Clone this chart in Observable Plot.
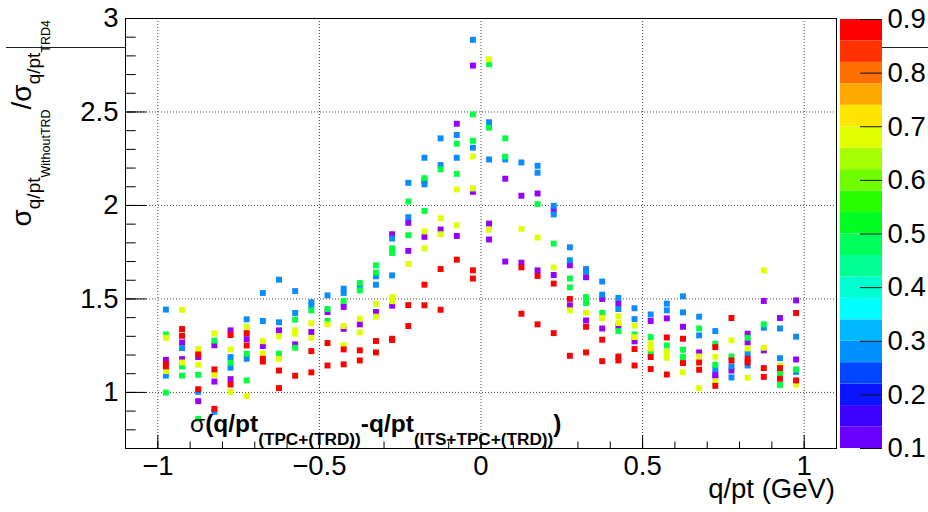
<!DOCTYPE html>
<html><head><meta charset="utf-8">
<script src="https://cdn.jsdelivr.net/npm/d3@7"></script>
<script src="https://cdn.jsdelivr.net/npm/@observablehq/plot@0.6"></script>
<style>
html,body{margin:0;padding:0;background:#fff;}
#wrap{position:relative;width:928px;height:512px;overflow:hidden;font-family:"Liberation Sans",Arial,Helvetica,sans-serif;}
#wrap > *{position:absolute;}
</style></head><body><div id="wrap"></div>
<script>
// ---- data ----
const xBins = [-0.975,-0.925,-0.875,-0.825,-0.775,-0.725,-0.675,-0.625,-0.575,-0.525,
  -0.475,-0.425,-0.375,-0.325,-0.275,-0.225,-0.175,-0.125,-0.075,-0.025,
  0.025,0.075,0.125,0.175,0.225,0.275,0.325,0.375,0.425,0.475,
  0.525,0.575,0.625,0.675,0.725,0.775,0.825,0.875,0.925,0.975];

const violetHi = [1.174,1.267,1.189,1.252,1.332,1.285,1.248,1.332,1.257,1.323,1.430,1.457,1.364,1.430,1.846,1.907,2.130,1.871,2.437,2.748,1.903,2.143,2.052,2.064,1.973,1.680,1.616,1.500,1.475,1.273,1.382,1.396,1.351,1.214,1.096,1.117,1.314,1.489,1.398,1.492];
const violetLo = [null,1.178,0.953,1.058,1.071,null,null,null,null,null,null,1.340,null,null,1.464,1.757,1.832,null,1.837,2.073,1.818,1.700,1.694,1.653,1.628,1.466,1.385,1.342,1.355,null,null,null,null,null,1.085,null,1.267,1.225,null,1.176];
const blueHi = [1.443,1.237,1.003,0.896,1.189,1.391,1.532,1.603,1.542,1.482,1.519,1.555,1.568,1.621,1.823,2.121,2.255,2.359,2.377,2.886,2.445,2.246,2.230,2.212,1.998,1.776,1.660,1.593,1.505,1.450,1.417,1.475,1.514,1.405,1.328,1.139,1.207,1.346,1.342,1.298];
const blueLo = [1.090,null,null,null,1.132,1.180,1.382,1.375,1.425,1.465,null,1.532,null,1.576,1.626,1.937,2.113,2.216,2.255,2.309,2.246,null,null,2.175,1.952,1.707,1.645,1.523,1.446,1.392,null,1.439,1.428,1.305,1.124,1.080,1.144,null,1.183,1.110];
const greenHi = [1.310,1.139,1.094,1.277,1.158,1.207,null,1.207,1.389,1.439,1.446,1.489,1.585,1.680,1.771,2.021,2.146,2.193,2.330,2.487,2.755,2.359,null,2.007,1.796,1.609,1.510,1.425,1.328,1.310,1.296,1.251,1.228,1.342,1.260,1.192,1.292,1.364,1.103,1.123];
const greenLo = [0.999,1.090,0.859,null,null,1.064,null,null,1.239,null,1.382,null,1.546,1.641,1.746,1.841,1.971,null,2.169,2.346,2.416,2.261,null,null,null,1.562,1.478,null,null,null,1.215,null,1.189,null,1.148,null,null,null,1.040,null];
const yellowHi = [1.292,1.442,1.232,1.316,1.230,1.351,1.274,1.300,1.332,1.370,1.364,1.355,1.394,1.473,1.510,1.687,1.861,1.932,2.086,2.262,2.782,null,1.875,1.828,1.668,1.439,1.426,1.398,1.407,1.357,1.260,1.216,1.107,1.192,1.191,1.278,1.235,1.653,1.144,1.042];
const yellowLo = [1.114,1.160,1.148,1.094,1.003,0.980,1.207,1.180,1.314,1.292,null,1.253,1.321,1.405,1.488,null,1.771,1.846,1.894,2.091,1.871,null,null,null,null,null,null,null,1.371,1.296,1.235,1.185,null,1.023,1.060,null,1.078,1.239,null,null];
const redHi = [1.153,1.339,1.203,1.123,1.307,1.317,1.180,1.117,1.089,1.221,1.264,1.230,1.225,1.275,1.287,1.467,1.576,1.660,1.710,1.653,null,null,1.669,1.623,1.582,1.500,1.351,1.282,1.192,1.232,1.189,1.294,1.287,1.160,1.242,1.398,1.180,1.130,1.130,1.425];
const redLo = [1.139,1.303,1.017,0.912,1.042,1.251,1.165,1.023,null,1.107,1.144,1.150,1.171,1.214,1.280,1.355,1.466,1.442,null,1.609,null,null,1.421,1.364,1.317,1.196,1.214,1.167,1.171,1.144,1.125,1.096,1.157,1.121,1.035,1.171,1.160,1.083,1.073,1.064];

const seriesNames = ["z=0.1","z=0.3","z=0.5","z=0.7","z=0.9"];
const seriesColors = ["#9600ff","#0a8cff","#00ff40","#e2ff00","#ff0000"];

const xMajorTicks = [-1,-0.5,0,0.5,1];
const xTickLabels = ["\u22121","\u22120.5","0","0.5","1"];
const xMinorTicks = [-1,-0.9,-0.8,-0.7,-0.6,-0.5,-0.4,-0.3,-0.2,-0.1,0,0.1,0.2,0.3,0.4,0.5,0.6,0.7,0.8,0.9,1];
const yMajorTicks = [1,1.5,2,2.5,3];
const yTickLabels = ["1","1.5","2","2.5","3"];
const yMinorTicks = [0.7,0.8,0.9,1,1.1,1.2,1.3,1.4,1.5,1.6,1.7,1.8,1.9,2,2.1,2.2,2.3,2.4,2.5,2.6,2.7,2.8,2.9,3];
const yGridValues = [1,1.5,2,2.5];

const barEdges = [0.10,0.14,0.18,0.22,0.26,0.30,0.34,0.38,0.42,0.46,0.50,0.54,0.58,0.62,0.66,0.70,0.74,0.78,0.82,0.86,0.90];
const barColors = ["#6a00ff","#3c00ff","#0a14ff","#0046ff","#0090ff","#00b8ff","#00ffff","#00ffd0","#00ff90","#00ff5a",
                   "#00ff20","#28ff00","#70ff00","#a6ff00","#e2ff00","#ffe600","#ffa800","#ff7000","#ff3200","#ff0000"];
const cbTicks = [0.1,0.2,0.3,0.4,0.5,0.6,0.7,0.8,0.9];
const cbTickLabels = ["0.1","0.2","0.3","0.4","0.5","0.6","0.7","0.8","0.9"];

// ---- build ----
const FONT = '"Liberation Sans",Arial,Helvetica,sans-serif';
const rows = [];
[[violetHi,violetLo],[blueHi,blueLo],[greenHi,greenLo],[yellowHi,yellowLo],[redHi,redLo]].forEach((pair, k) => {
  pair.forEach(arr => arr.forEach((v, i) => { if (v != null) rows.push({x: xBins[i], y: v, s: seriesNames[k]}); }));
});
const bands = barColors.map((c, i) => ({lo: barEdges[i], hi: barEdges[i+1], mid: (barEdges[i] + barEdges[i+1]) / 2}));

const W = 928, H = 512, mL = 125, mR = 92, mT = 18, mB = 64;
const innerW = W - mL - mR, innerH = H - mT - mB;
const wrap = document.getElementById("wrap");

// background decoration line (under pad)
const bg = document.createElementNS("http://www.w3.org/2000/svg", "svg");
bg.setAttribute("width", W); bg.setAttribute("height", H);
bg.style.left = "0px"; bg.style.top = "0px";
bg.innerHTML = '<line x1="6" x2="125" y1="47.5" y2="47.5" stroke="#222" stroke-width="1"/>' +
               '<line x1="882" x2="928" y1="47.5" y2="47.5" stroke="#222" stroke-width="1"/>';
wrap.appendChild(bg);

const gridStyle = {stroke: "#444", strokeOpacity: 1, strokeDasharray: "1,2"};
const main = Plot.plot({
  width: W, height: H,
  marginLeft: mL, marginRight: mR, marginTop: mT, marginBottom: mB,
  style: {background: "transparent", fontFamily: FONT, color: "black", overflow: "visible"},
  x: {domain: [-1.1, 1.1]},
  y: {domain: [0.7, 3]},
  color: {type: "ordinal", domain: seriesNames, range: seriesColors},
  marks: [
    Plot.frame({fill: "white", stroke: "none"}),
    Plot.gridX(xMajorTicks, gridStyle),
    Plot.gridY(yGridValues, gridStyle),
    Plot.ruleX(xMinorTicks, {x: d => d, insetTop: innerH - 6.5, stroke: "black"}),
    Plot.ruleX(xMajorTicks, {x: d => d, insetTop: innerH - 13, stroke: "black"}),
    Plot.ruleY(yMinorTicks, {y: d => d, insetRight: innerW - 10.7, stroke: "black"}),
    Plot.ruleY(yMajorTicks, {y: d => d, insetRight: innerW - 21.3, stroke: "black"}),
    Plot.dot(rows, {x: "x", y: "y", fill: "s", symbol: "square", r: 3.35}),
    Plot.frame({stroke: "black", strokeWidth: 1}),
    Plot.axisX(xMajorTicks, {tickSize: 0, tickPadding: 7, fontSize: 27.5, label: null, tickFormat: (d, i) => xTickLabels[i]}),
    Plot.axisY(yMajorTicks, {tickSize: 0, tickPadding: 7, fontSize: 27.5, label: null, tickFormat: (d, i) => yTickLabels[i]})
  ]
});
main.style.left = "0px"; main.style.top = "0px";
wrap.appendChild(main);

// color bar
const cbW = 88, cbRight = 46;
const cb = Plot.plot({
  width: cbW, height: H,
  marginLeft: 0, marginRight: cbRight, marginTop: 19, marginBottom: 64,
  style: {background: "transparent", fontFamily: FONT, color: "black", overflow: "visible"},
  y: {domain: [0.1, 0.9]},
  color: {type: "threshold", domain: barEdges.slice(1, -1), range: barColors},
  marks: [
    Plot.rect(bands, {y1: "lo", y2: "hi", fill: "mid"}),
    Plot.ruleY(cbTicks, {y: d => d, insetLeft: (cbW - cbRight) - 22, stroke: "#111"}),
    Plot.axisY(cbTicks, {anchor: "right", tickSize: 0, tickPadding: 5, fontSize: 27.5, label: null, tickFormat: (d, i) => cbTickLabels[i]})
  ]
});
cb.style.left = "840px"; cb.style.top = "0px";
wrap.appendChild(cb);

// text overlay
const ov = document.createElementNS("http://www.w3.org/2000/svg", "svg");
ov.setAttribute("width", W); ov.setAttribute("height", H);
ov.style.left = "0px"; ov.style.top = "0px"; ov.style.pointerEvents = "none";
ov.setAttribute("font-family", FONT);
ov.innerHTML =
  '<text transform="translate(31,20) rotate(-90)" text-anchor="end" font-size="28" fill="black">\u03c3' +
    '<tspan font-size="19" dy="9">q/pt</tspan><tspan font-size="12.5" dy="10">WithoutTRD</tspan>' +
    '<tspan font-size="28" dy="-19">/\u03c3</tspan><tspan font-size="19" dy="9">q/pt</tspan>' +
    '<tspan font-size="12.5" dy="10">TRD4</tspan></text>' +
  '<text x="190" y="432" font-size="24.5" font-weight="bold" fill="black"><tspan font-weight="normal">\u03c3</tspan>(q/pt' +
    '<tspan font-size="17.2" dy="13">(TPC+(TRD))</tspan><tspan dy="-13">-q/pt</tspan>' +
    '<tspan font-size="17.2" dy="13">(ITS+TPC+(TRD))</tspan><tspan dy="-13">)</tspan></text>' +
  '<text x="835" y="498" text-anchor="end" font-size="27.5" fill="black">q/pt (GeV)</text>';
wrap.appendChild(ov);
</script>
</body></html>
